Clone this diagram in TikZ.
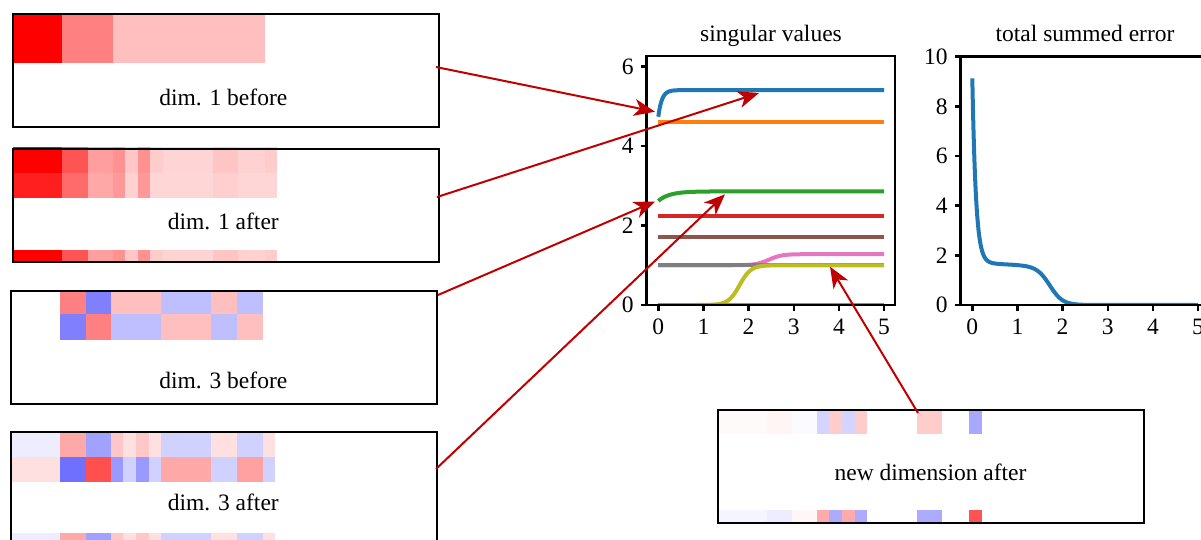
\documentclass[tikz,border=0pt]{standalone}
\usepackage{fontspec}
\setmainfont{Liberation Serif}
\usetikzlibrary{arrows.meta}

\definecolor{arrowred}{RGB}{192,0,0}
\definecolor{cBlue}{HTML}{1F77B4}
\definecolor{cOrange}{HTML}{FF7F0E}
\definecolor{cGreen}{HTML}{2CA02C}
\definecolor{cRed}{HTML}{D62728}
\definecolor{cPurple}{HTML}{9467BD}
\definecolor{cBrown}{HTML}{8C564B}
\definecolor{cPink}{HTML}{E377C2}
\definecolor{cGray}{HTML}{7F7F7F}
\definecolor{cOlive}{HTML}{BCBD22}
\definecolor{cCyan}{HTML}{17BECF}

% one row of heat-map cells: top y, bottom y, list of left/right/colour
\newcommand\hmrow[3]{%
  \foreach \xa/\xb/\cc in {#3} {\fill[fill=\cc] (\xa,-#1) rectangle (\xb,-#2);}}

\begin{document}
\begin{tikzpicture}[x=1pt,y=1pt,
  lbl/.style={font=\fontsize{23.5}{28}\selectfont, inner sep=0pt},
  panel/.style={draw, line width=2pt, minimum width=426pt, minimum height=113pt, inner sep=0pt, outer sep=0pt},
  pointer/.style={draw=arrowred, line width=2pt, -{Stealth[length=21pt,width=17pt,inset=6pt]}},
  curve/.style={line width=4pt},
  axisline/.style={line width=2.5pt}]
\useasboundingbox (0,0) rectangle (1201,-540);

% ---------- heat maps ----------
% dim. 1 before
\hmrow{14}{63}{13/62/red!100, 62/113/red!50, 113/265/red!25}
% dim. 1 after
\hmrow{147}{173}{13/62/red!100, 62/88/red!67, 88/113/red!38, 113/125/red!43, 125/138/red!22, 138/150/red!43, 150/163/red!20, 163/213/red!17, 213/238/red!23, 238/265/red!18, 265/277/red!20}
\hmrow{173}{198}{13/62/red!88, 62/88/red!58, 88/113/red!34, 113/125/red!40, 125/138/red!18, 138/150/red!40, 150/163/red!16, 163/213/red!16, 213/238/red!19, 238/265/red!16, 265/277/red!16}
\hmrow{250}{262}{13/62/red!100, 62/88/red!67, 88/113/red!38, 113/125/red!43, 125/138/red!22, 138/150/red!43, 150/163/red!20, 163/213/red!17, 213/238/red!23, 238/265/red!18, 265/277/red!20}
% dim. 3 before
\hmrow{291}{314}{60/86/red!50, 86/111/blue!50, 111/161/red!25, 161/211/blue!25, 211/237/red!25, 237/263/blue!25}
\hmrow{314}{340}{60/86/blue!50, 86/111/red!50, 111/161/blue!25, 161/211/red!25, 211/237/blue!25, 237/263/red!25}
% dim. 3 after
\hmrow{432}{457}{11/60/blue!7, 60/86/red!34, 86/111/blue!37, 111/123/red!22, 123/136/red!12, 136/149/red!22, 149/161/red!12, 161/211/blue!18, 211/237/red!12, 237/263/blue!18, 263/275/red!12}
\hmrow{457}{482}{11/60/red!12, 60/86/blue!56, 86/111/red!69, 111/123/blue!40, 123/136/blue!18, 136/149/blue!40, 149/161/blue!18, 161/211/red!34, 211/237/blue!18, 237/263/red!37, 263/275/blue!18}
\hmrow{533}{548}{11/60/blue!7, 60/86/red!34, 86/111/blue!37, 111/123/red!22, 123/136/red!12, 136/149/red!22, 149/161/red!12, 161/211/blue!18, 211/237/red!12, 237/263/blue!18, 263/275/red!12}
% new dimension after
\hmrow{410}{434}{718/767/red!2, 767/792/red!4, 792/817/blue!2, 817/829/blue!17, 829/842/red!20, 842/855/blue!17, 855/867/red!20, 917/942/red!20, 969/982/blue!34}
\hmrow{510}{523}{718/767/blue!4, 767/792/blue!7, 792/817/red!3, 817/829/red!33, 829/842/blue!33, 842/855/red!33, 855/867/blue!33, 917/942/blue!33, 969/982/red!67}

% ---------- panels and captions ----------
\node[panel] (b1) at (226,-70.5) {};
\node[panel] (b2) at (225.5,-205.5) {};
\node[panel] (b3) at (224,-347.5) {};
\node[panel] (b4) at (224,-488.5) {};
\node[panel] (b5) at (931,-466.5) {};

\node[lbl, anchor=base] (t1) at (223.3,-106) {dim. 1 before};
\node[lbl, anchor=base] (t2) at (223.3,-229.3) {dim. 1 after};
\node[lbl, anchor=base] (t3) at (223.3,-388.3) {dim. 3 before};
\node[lbl, anchor=base] (t4) at (223.3,-510.7) {dim. 3 after};
\node[lbl, anchor=base] (t5) at (930.5,-480) {new dimension after};

% ---------- singular values ----------
\node[lbl, anchor=base] (title1) at (771,-41.7) {singular values};
\begin{scope}[shift={(658.3,-305)}, x=45.15pt, y=39.72pt]
  \begin{scope}
    \clip (-0.257,0) rectangle (5.24,6.27);
    \draw[curve, cBlue] plot[domain=0:0.8, samples=60] (\x,{5.41-0.67*exp(max(-\x/0.08,-9))}) -- (5,5.41);
    \draw[curve, cOrange] (0,4.6) -- (5,4.6);
    \draw[curve, cGreen] plot[domain=0:1.5, samples=50] (\x,{2.86-0.24*exp(max(-\x/0.25,-9))}) -- (5,2.86);
    \draw[curve, cRed] (0,2.23) -- (5,2.23);
    \draw[curve, cPurple] (0,0) -- (5,0);
    \draw[curve, cBrown] (0,1.72) -- (5,1.72);
    \draw[curve, cPink] (0,1) -- (1.6,1) -- plot[domain=1.6:3.6, samples=60] (\x,{1+0.28/(1+exp(-7*(\x-2.45)))}) -- (5,1.28);
    \draw[curve, cGray] (0,1) -- (5,1);
    \draw[curve, cOlive] (0,0) -- (0.9,0) -- plot[domain=0.9:3.0, samples=70] (\x,{1/(1+exp(-8*(\x-1.8)))}) -- (5,1);
    \draw[curve, cCyan] (0,0) -- (5,0);
  \end{scope}
  \draw[axisline] (-0.257,0) rectangle (5.24,6.27);
  \foreach \t in {0,...,5} {
    \draw[axisline] (\t,0) -- ++(0,-5.5pt);
    \node[lbl] at ([yshift=-21.7pt]\t,0) {\t};
  }
  \foreach \t in {0,2,4,6} {
    \draw[axisline] (-0.257,\t) -- ++(-5.5pt,0);
    \node[lbl, anchor=east] at ([xshift=-13pt]-0.257,\t) {\t};
  }
\end{scope}

% ---------- total summed error ----------
\node[lbl, anchor=base] (title2) at (1085,-41.7) {total summed error};
\begin{scope}[shift={(972.3,-305)}, x=45.15pt, y=24.83pt]
  \begin{scope}
    \clip (-0.257,0) rectangle (5.24,10);
    \draw[curve, cBlue]
      plot[domain=0:0.5, samples=80] (\x,{7.43*exp(max(-\x/0.08,-9)) + 1.7*(1-0.05*\x)/(1+exp(7*(\x-1.72)))})
      -- plot[domain=0.5:2.7, samples=80] (\x,{7.43*exp(max(-\x/0.08,-9)) + 1.7*(1-0.05*\x)/(1+exp(7*(\x-1.72)))})
      -- (5,0);
  \end{scope}
  \draw[axisline] (-0.257,0) rectangle (5.24,10);
  \foreach \t in {0,...,5} {
    \draw[axisline] (\t,0) -- ++(0,-5.5pt);
    \node[lbl] at ([yshift=-21.7pt]\t,0) {\t};
  }
  \foreach \t in {0,2,4,6,8,10} {
    \draw[axisline] (-0.257,\t) -- ++(-5.5pt,0);
    \node[lbl, anchor=east] at ([xshift=-13pt]-0.257,\t) {\t};
  }
\end{scope}

% ---------- pointers from panels to curves ----------
\coordinate (s1) at (436,-67);   \coordinate (e1) at (655,-111.7);
\coordinate (s2) at (437,-197);  \coordinate (e2) at (759,-93);
\coordinate (s3) at (438,-295);  \coordinate (e3) at (655,-201.5);
\coordinate (s4) at (436,-469);  \coordinate (e4) at (725,-194.3);
\coordinate (s5) at (918,-413);  \coordinate (e5) at (830,-266.7);
\draw[pointer] (s1) -- (e1);
\draw[pointer] (s2) -- (e2);
\draw[pointer] (s3) -- (e3);
\draw[pointer] (s4) -- (e4);
\draw[pointer] (s5) -- (e5);
\end{tikzpicture}
\end{document}
